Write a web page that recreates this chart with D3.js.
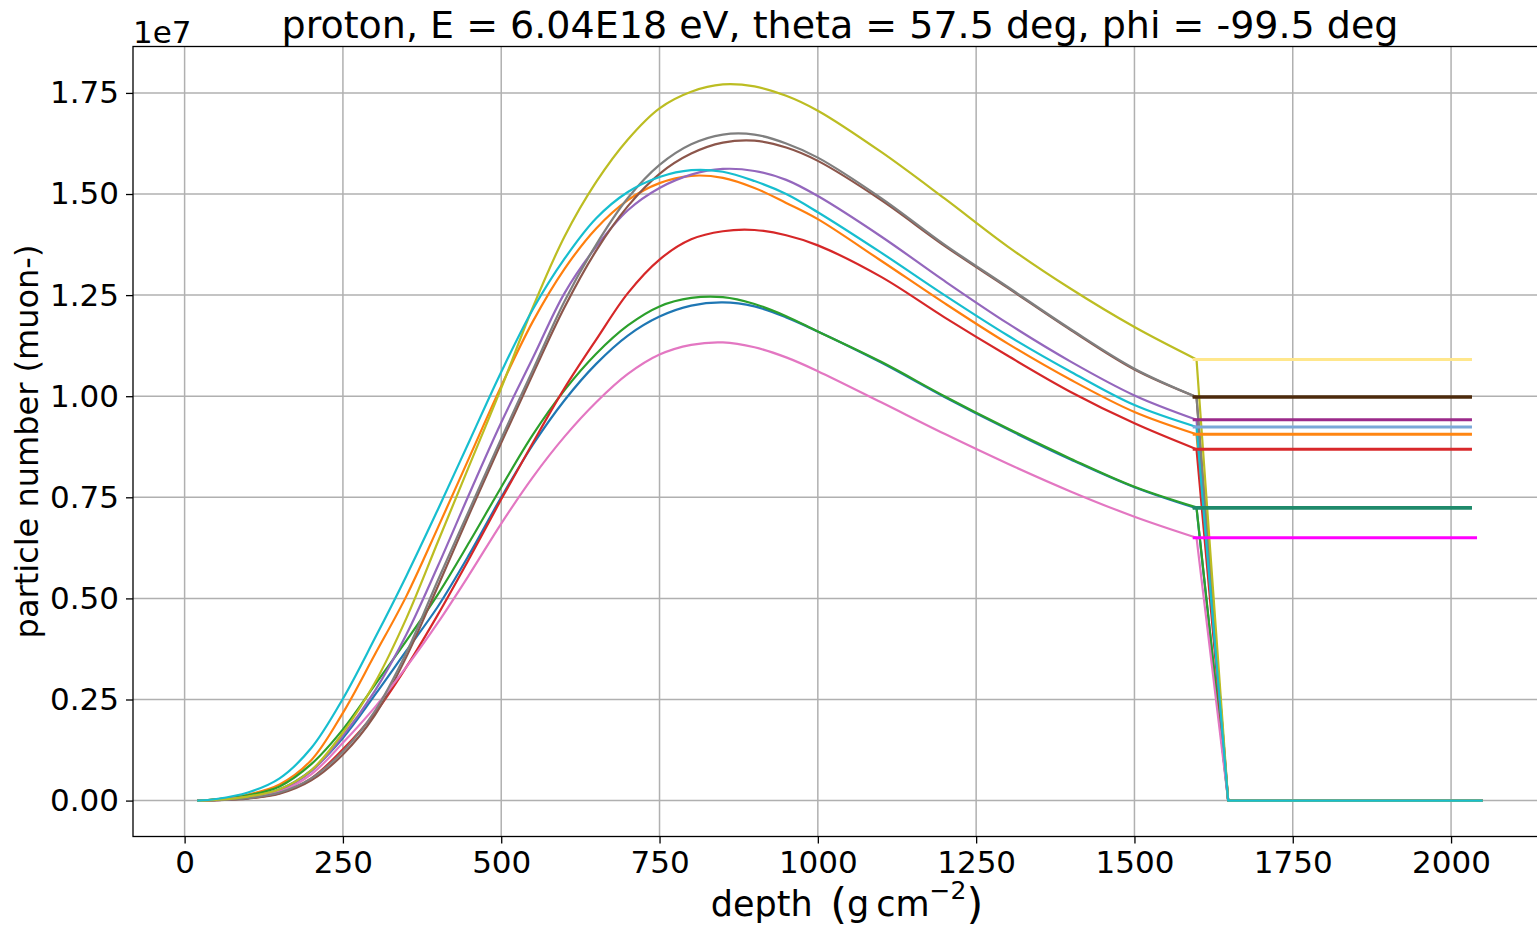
<!DOCTYPE html>
<html>
<head>
<meta charset="utf-8">
<script src="https://cdn.jsdelivr.net/npm/d3@7"></script>
<style>
  body { margin: 0; background: #fff; }
  text { font-family: 'DejaVu Sans', sans-serif; fill: #000; }
</style>
</head>
<body>
<script>

// depth grid (g/cm^2) the profiles were read at, the last one is ground level
var depth = [20, 50, 100, 150, 200, 250, 300, 350, 400, 450, 500, 550, 600, 650, 700,
             750, 800, 850, 900, 950, 1000, 1100, 1200, 1300, 1400, 1500, 1598];

// muon- numbers, in units of 1e7
var blueN   = [0, 0.002, 0.010, 0.028, 0.075, 0.155, 0.26, 0.37, 0.48, 0.61, 0.75, 0.88, 0.99, 1.08, 1.15, 1.197, 1.224, 1.232, 1.222, 1.195, 1.16, 1.083, 0.998, 0.918, 0.843, 0.775, 0.723];
var orangeN = [0, 0.003, 0.015, 0.040, 0.100, 0.217, 0.36, 0.505, 0.675, 0.85, 1.025, 1.185, 1.315, 1.415, 1.485, 1.527, 1.545, 1.54, 1.515, 1.478, 1.438, 1.335, 1.23, 1.13, 1.04, 0.961, 0.906];
var greenN  = [0, 0.003, 0.013, 0.035, 0.090, 0.176, 0.285, 0.395, 0.51, 0.64, 0.775, 0.905, 1.015, 1.105, 1.175, 1.222, 1.243, 1.245, 1.228, 1.198, 1.16, 1.085, 1.00, 0.92, 0.845, 0.776, 0.725];
var redN    = [0, 0.001, 0.006, 0.018, 0.055, 0.127, 0.215, 0.33, 0.46, 0.60, 0.745, 0.885, 1.02, 1.14, 1.255, 1.338, 1.388, 1.408, 1.411, 1.398, 1.373, 1.295, 1.195, 1.10, 1.01, 0.933, 0.869];
var purpleN = [0, 0.002, 0.009, 0.025, 0.072, 0.160, 0.27, 0.41, 0.58, 0.76, 0.935, 1.095, 1.255, 1.37, 1.46, 1.515, 1.548, 1.562, 1.557, 1.535, 1.495, 1.395, 1.285, 1.18, 1.085, 1.002, 0.942];
var brownN  = [0, 0.001, 0.005, 0.017, 0.050, 0.114, 0.21, 0.355, 0.53, 0.71, 0.885, 1.055, 1.22, 1.36, 1.47, 1.55, 1.60, 1.627, 1.632, 1.615, 1.582, 1.485, 1.372, 1.268, 1.163, 1.066, 0.998];
var pinkN   = [0, 0.002, 0.008, 0.022, 0.065, 0.143, 0.23, 0.33, 0.44, 0.56, 0.685, 0.80, 0.90, 0.985, 1.055, 1.103, 1.127, 1.133, 1.121, 1.096, 1.062, 0.985, 0.907, 0.833, 0.764, 0.702, 0.65];
var grayN   = [0, 0.001, 0.006, 0.020, 0.055, 0.122, 0.22, 0.365, 0.545, 0.72, 0.895, 1.065, 1.235, 1.375, 1.49, 1.572, 1.623, 1.647, 1.647, 1.625, 1.59, 1.49, 1.375, 1.27, 1.165, 1.068, 0.998];
var oliveN  = [0, 0.002, 0.010, 0.028, 0.075, 0.168, 0.29, 0.45, 0.64, 0.83, 1.02, 1.22, 1.395, 1.53, 1.635, 1.712, 1.753, 1.771, 1.766, 1.743, 1.706, 1.604, 1.489, 1.37, 1.265, 1.171, 1.091];
var cyanN   = [0, 0.004, 0.020, 0.055, 0.130, 0.252, 0.40, 0.555, 0.72, 0.89, 1.06, 1.215, 1.34, 1.44, 1.505, 1.542, 1.559, 1.555, 1.532, 1.50, 1.455, 1.355, 1.25, 1.15, 1.06, 0.978, 0.924];

var profiles = [blueN, orangeN, greenN, redN, purpleN, brownN, pinkN, grayN, oliveN, cyanN];
var lineColors = ['#1f77b4', '#ff7f0e', '#2ca02c', '#d62728', '#9467bd',
                  '#8c564b', '#e377c2', '#7f7f7f', '#bcbd22', '#17becf'];

// after ground every profile falls to zero
var dropDepth = 1648;
var tailDepth = 2050;

// the ground level number, drawn as a flat line
var levelStart = 1592;
var levelEnd = [2033, 2033, 2033, 2033, 2033, 2033, 2041, 2033, 2033, 2033];
var levelColors = ['#1f8a6b', '#ff8612', '#1f8a6b', '#d8282b', '#9b2a8a',
                   '#4d2a0c', '#ff00ff', '#4d2a0c', '#ffe78c', '#79a7d8'];

var xTicks = [0, 250, 500, 750, 1000, 1250, 1500, 1750, 2000];
var yTicks = [0, 0.25, 0.5, 0.75, 1.0, 1.25, 1.5, 1.75];

var titleText = 'proton, E = 6.04E18 eV, theta = 57.5 deg, phi = -99.5 deg';

var width = 1537, height = 931;
// plot box (right edge sits past the picture, as in the original crop)
var pLeft = 133, pRight = 1547, pTop = 46.5, pBottom = 836.5;

var svg = d3.select('body').append('svg')
    .attr('width', width).attr('height', height);

var x = d3.scaleLinear().domain([-81.5, 2151.5]).range([pLeft, pRight]);
var y = d3.scaleLinear().domain([-0.0888, 1.8648]).range([pBottom, pTop]);

// grid
svg.append('g').selectAll('line').data(xTicks).enter().append('line')
    .attr('x1', d => x(d)).attr('x2', d => x(d))
    .attr('y1', pTop).attr('y2', pBottom)
    .attr('stroke', '#b0b0b0').attr('stroke-width', 1.5);
svg.append('g').selectAll('line').data(yTicks).enter().append('line')
    .attr('x1', pLeft).attr('x2', pRight)
    .attr('y1', d => y(d)).attr('y2', d => y(d))
    .attr('stroke', '#b0b0b0').attr('stroke-width', 1.5);

var smooth = d3.line().x(d => x(d[0])).y(d => y(d[1])).curve(d3.curveCatmullRom.alpha(0.5));
var straight = d3.line().x(d => x(d[0])).y(d => y(d[1]));

profiles.forEach(function (vals, i) {
    var pts = depth.map((dp, j) => [dp, vals[j]]);
    var last = pts[pts.length - 1];
    var tail = [last, [dropDepth, 0], [tailDepth, 0]];
    svg.append('path')
        .attr('d', smooth(pts) + straight(tail))
        .attr('fill', 'none')
        .attr('stroke', lineColors[i])
        .attr('stroke-width', 2.2)
        .attr('stroke-linejoin', 'round');
});

// flat lines at the ground value
svg.append('g').selectAll('line').data(profiles).enter().append('line')
    .attr('x1', x(levelStart))
    .attr('x2', (d, i) => x(levelEnd[i]))
    .attr('y1', d => y(d[d.length - 1]))
    .attr('y2', d => y(d[d.length - 1]))
    .attr('stroke', (d, i) => levelColors[i])
    .attr('stroke-width', 3);

// axes
var xAxis = svg.append('g').attr('transform', 'translate(0,' + pBottom + ')')
    .call(d3.axisBottom(x).tickValues(xTicks).tickSize(7).tickPadding(7).tickFormat(d3.format('d')));
var yAxis = svg.append('g').attr('transform', 'translate(' + pLeft + ',0)')
    .call(d3.axisLeft(y).tickValues(yTicks).tickSize(7).tickPadding(7).tickFormat(d3.format('.2f')));

[xAxis, yAxis].forEach(function (g) {
    g.select('.domain').remove();
    g.selectAll('.tick line').attr('stroke', '#000').attr('stroke-width', 1.3);
    g.selectAll('.tick text').attr('font-size', 31).attr('fill', '#000')
        .attr('font-family', "'DejaVu Sans', sans-serif");
});

// frame
svg.append('rect')
    .attr('x', pLeft).attr('y', pTop)
    .attr('width', pRight - pLeft).attr('height', pBottom - pTop)
    .attr('fill', 'none').attr('stroke', '#000').attr('stroke-width', 1.3);

// offset text
svg.append('text').attr('x', pLeft).attr('y', 43)
    .attr('font-size', 31).text('1e7');

svg.append('text').attr('x', (pLeft + pRight) / 2).attr('y', 38)
    .attr('text-anchor', 'middle').attr('font-size', 38).text(titleText);

svg.append('text')
    .attr('transform', 'translate(38,' + (pTop + pBottom) / 2 + ') rotate(-90)')
    .attr('text-anchor', 'middle').attr('font-size', 32)
    .text('particle number (muon-)');

// depth (g cm^-2)
var xl = svg.append('text').attr('x', 847).attr('y', 916)
    .attr('text-anchor', 'middle').attr('font-size', 35);
xl.append('tspan').text('depth\u2002');
xl.append('tspan').attr('font-size', 43).attr('dy', 3).text('(');
xl.append('tspan').attr('dy', -3).text('g\u2009cm');
xl.append('tspan').attr('font-size', 25).attr('dy', -17).text('\u22122');
xl.append('tspan').attr('font-size', 43).attr('dy', 20).text(')');

</script>
</body>
</html>
